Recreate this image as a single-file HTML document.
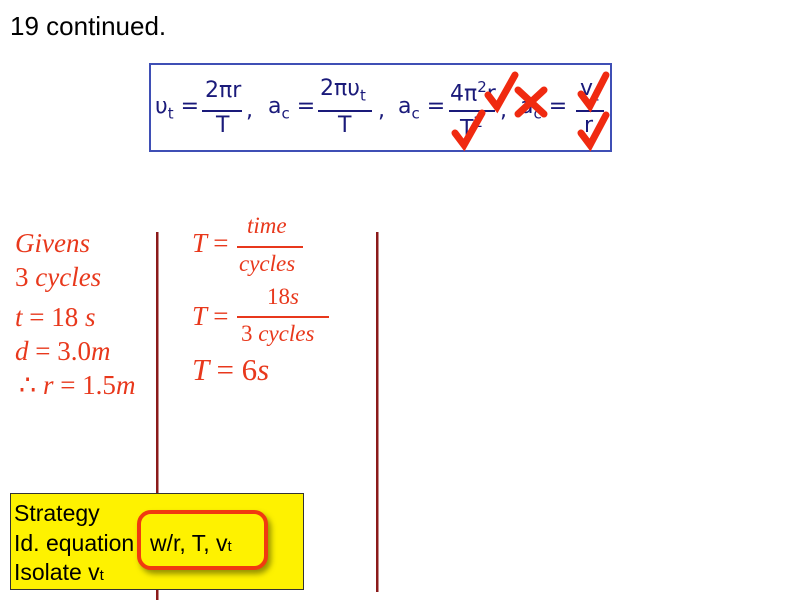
<!DOCTYPE html>
<html><head><style>
body{margin:0;width:800px;height:600px;background:#fff;position:relative;overflow:hidden;font-family:"Liberation Sans",sans-serif}
.a{position:absolute;white-space:nowrap}
.r{color:#e8381c;font-family:"Liberation Serif",serif;font-style:italic;font-size:27px}
.u{font-style:normal}
.n{color:#1a1a7a;font-family:"DejaVu Sans",sans-serif;font-size:22px}
.ln{position:absolute;background:#1a1a7a;height:1.5px}
.rl{position:absolute;background:#e8381c;height:1.5px}
.s{font-size:23px;color:#000;position:absolute;white-space:nowrap}
</style></head><body>
<div class="a" style="left:10px;top:11px;font-size:26px;color:#000">19 continued.</div>
<div class="a" style="left:149px;top:63px;width:459px;height:85px;border:2px solid #3f4fb5"></div>
<div class="a n" style="left:155px;top:94px">υ<sub style="font-size:15px">t</sub> =</div>
<div class="a n" style="left:205px;top:78px">2πr</div><div class="ln" style="left:202px;top:110px;width:40px"></div>
<div class="a n" style="left:216px;top:113px">T</div><div class="a n" style="left:246px;top:98px">,</div>
<div class="a n" style="left:268px;top:94px">a<sub style="font-size:15px">c</sub> =</div>
<div class="a n" style="left:320px;top:76px">2πυ<sub style="font-size:15px">t</sub></div><div class="ln" style="left:318px;top:110px;width:54px"></div>
<div class="a n" style="left:338px;top:113px">T</div><div class="a n" style="left:378px;top:98px">,</div>
<div class="a n" style="left:398px;top:94px">a<sub style="font-size:15px">c</sub> =</div>
<div class="a n" style="left:450px;top:78px">4π<sup style="font-size:15px">2</sup>r</div><div class="ln" style="left:449px;top:110px;width:46px"></div>
<div class="a n" style="left:460px;top:113px">T<sup style="font-size:15px">2</sup></div><div class="a n" style="left:500px;top:98px">,</div>
<div class="a n" style="left:520px;top:94px">a<sub style="font-size:15px">c</sub> =</div>
<div class="a n" style="left:580px;top:76px">v<sub style="font-size:15px">t</sub></div><div class="ln" style="left:576px;top:110px;width:28px"></div>
<div class="a n" style="left:584px;top:113px">r</div>
<svg class="a" style="left:0;top:0" width="800" height="600">
<g stroke="#f02a10" stroke-width="7" fill="none" stroke-linecap="round">
<path d="M488 95 L497 107 L515 75"/><path d="M455 133 L464 145 L482 113"/>
<path d="M581 94 L590 106 L606 75"/><path d="M581 133 L590 145 L606 115"/>
<path d="M518 90 L544 114 M544 90 L518 114"/>
</g>
<rect x="156" y="232" width="2.5" height="368" fill="#8b1a1a"/>
<rect x="376" y="232" width="2.5" height="360" fill="#8b1a1a"/>
</svg>
<div class="a r" style="left:15px;top:228px">Givens</div>
<div class="a r" style="left:15px;top:262px"><span class="u">3</span> cycles</div>
<div class="a r" style="left:15px;top:302px">t <span class="u">= 18</span> s</div>
<div class="a r" style="left:15px;top:336px">d <span class="u">= 3.0</span>m</div>
<div class="a r" style="left:19px;top:370px"><span class="u">∴</span> r <span class="u">= 1.5</span>m</div>
<div class="a r" style="left:192px;top:228px">T <span class="u">=</span></div>
<div class="a r" style="left:247px;top:213px;font-size:23px">time</div><div class="rl" style="left:237px;top:246px;width:66px"></div>
<div class="a r" style="left:239px;top:251px;font-size:23px">cycles</div>
<div class="a r" style="left:192px;top:301px">T <span class="u">=</span></div>
<div class="a r" style="left:267px;top:284px;font-size:23px"><span class="u">18</span>s</div><div class="rl" style="left:237px;top:316px;width:92px"></div>
<div class="a r" style="left:241px;top:321px;font-size:23px"><span class="u">3</span> cycles</div>
<div class="a r" style="left:192px;top:352px;font-size:31px">T <span class="u">= 6</span>s</div>
<div class="a" style="left:10px;top:493px;width:292px;height:95px;background:#fef200;border:1px solid #333"></div>
<div class="s" style="left:14px;top:500px">Strategy</div>
<div class="s" style="left:14px;top:530px">Id. equation</div>
<div class="s" style="left:14px;top:559px">Isolate v<span style="font-size:15px">t</span></div>
<div class="a" style="left:137px;top:510px;width:123px;height:52px;border:4px solid #f03a10;border-radius:14px;box-shadow:3px 4px 6px rgba(80,80,0,.6);background:#fef200"></div>
<div class="s" style="left:150px;top:530px">w/r, T, v<span style="font-size:15px">t</span></div>
</body></html>
